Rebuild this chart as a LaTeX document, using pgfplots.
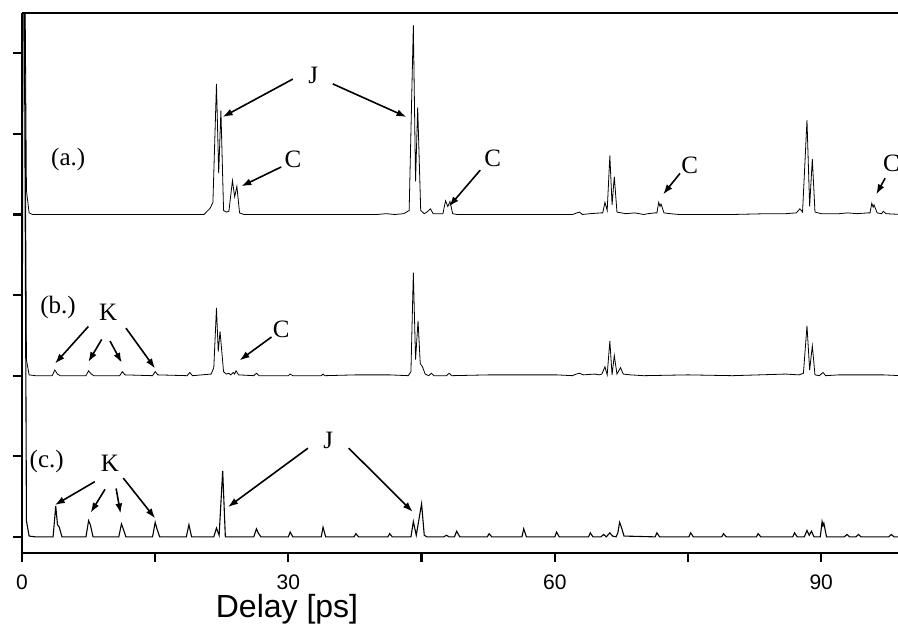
\documentclass[border=0pt]{standalone}
\usepackage{fontspec}
\setmainfont{Liberation Serif}
\setsansfont{Liberation Sans}
\usepackage{pgfplots}
\pgfplotsset{compat=1.18}
\usetikzlibrary{arrows.meta,calc}
\begin{document}
\begin{tikzpicture}
\begin{axis}[
  scale only axis, width=438pt, height=270pt,
  xmin=0, xmax=98.65, ymin=-0.2, ymax=6.5,
  axis x line=box, axis y line*=left,
  axis line style={line width=1.1pt},
  clip mode=individual,
  xtick={0,15,30,45,60,75,90}, xticklabels={0,,30,,60,,90},
  xtick pos=bottom, ytick pos=left,
  ytick={0,1,2,3,4,5,6}, yticklabels={},
  tick align=outside, major tick length=4.5pt,
  tick style={line width=1.1pt, black},
  xticklabel style={font=\sffamily\fontsize{10.5}{12}\selectfont, yshift=-3pt},
  /pgf/number format/assume math mode=true,
  xlabel={Delay [ps]},
  xlabel style={at={(axis description cs:0.3025,0)}, anchor=center, yshift=-28pt, font=\sffamily\fontsize{16}{18}\selectfont},
  cycle list={{black, no markers, line width=0.55pt, line join=round}},
]
% trace (a.)
\addplot coordinates {(0,4)(0.15,10)(0.5,4.3)(0.8,4.02)(1.2,4.0)(10,4.0)(20.5,4.0)(21.2,4.08)(21.5,4.15)(21.9,5.62)(22.15,4.51)(22.4,5.29)(22.7,4.05)(23.0,4.03)(23.3,4.04)(23.7,4.42)(23.95,4.22)(24.2,4.35)(24.5,4.02)(25,4.0)(40,4.0)(41,4.01)(42,4.0)(43,4.01)(43.6,4.05)(44.07,6.35)(44.32,4.41)(44.56,5.33)(44.9,4.05)(45.3,4.01)(45.6,4.03)(46.0,4.07)(46.3,4.01)(47.0,4.01)(47.4,4.01)(47.7,4.17)(47.95,4.1)(48.2,4.16)(48.5,4.01)(49,4.0)(62,4.0)(62.5,4.02)(62.8,4.03)(63.1,4.0)(64,4.01)(65.2,4.02)(65.4,4.02)(65.65,4.15)(65.9,4.05)(66.2,4.73)(66.45,4.12)(66.7,4.47)(67.0,4.03)(67.5,4.02)(68,4.01)(69,4.02)(70,4.0)(70.5,4.01)(71.3,4.02)(71.5,4.02)(71.7,4.15)(71.85,4.1)(71.96,4.13)(72.3,4.02)(73,4.01)(74,4.0)(80,4.0)(84,4.01)(86,4.01)(87.2,4.02)(87.6,4.07)(87.9,4.03)(88.4,5.17)(88.7,4.1)(89.0,4.69)(89.3,4.03)(90,4.01)(92,4.01)(93,4.02)(94,4.01)(95.3,4.02)(95.5,4.02)(95.7,4.14)(95.85,4.09)(95.95,4.12)(96.3,4.02)(96.8,4.01)(97,4.04)(97.3,4.01)(99,4.0)};
% trace (b.)
\addplot coordinates {(0,2)(0.15,10)(0.5,2.2)(0.8,2.01)(1.5,2.0)(3.4,2.0)(3.7,2.07)(4.0,2.02)(4.3,2.0)(7.2,2.0)(7.5,2.06)(7.8,2.02)(8.1,2.0)(11.0,2.0)(11.3,2.05)(11.6,2.01)(14.7,2.0)(15.0,2.05)(15.3,2.01)(18.6,2.0)(18.9,2.04)(19.2,2.0)(21.3,2.02)(21.6,2.1)(21.9,2.84)(22.1,2.3)(22.3,2.55)(22.5,2.3)(22.7,2.05)(23.0,2.02)(23.3,2.03)(23.5,2.01)(23.8,2.04)(23.95,2.02)(24.1,2.06)(24.4,2.01)(26.1,2.0)(26.4,2.03)(26.7,2.0)(30.0,2.0)(30.2,2.02)(30.5,2.0)(33.7,2.0)(33.9,2.02)(34.1,2.0)(37.6,2.01)(41.4,2.01)(43.5,2.0)(43.8,2.05)(44.07,3.28)(44.32,2.2)(44.6,2.68)(44.85,2.15)(45.1,2.11)(45.4,2.02)(45.8,2.0)(46.1,2.03)(46.4,2.0)(47.8,2.0)(48.1,2.03)(48.4,2.0)(52.6,2.01)(56.5,2.01)(60.2,2.01)(62.0,2.0)(62.4,2.02)(62.8,2.03)(63.2,2.01)(64.5,2.02)(65.0,2.01)(65.3,2.02)(65.65,2.11)(65.9,2.01)(66.2,2.43)(66.45,2.01)(66.7,2.25)(67.0,2.02)(67.4,2.1)(67.7,2.02)(68.5,2.01)(70,2.0)(75,2.01)(80,2.0)(83,2.01)(86,2.02)(87.5,2.01)(88.0,2.03)(88.4,2.62)(88.7,2.07)(89.0,2.37)(89.3,2.01)(89.8,2.0)(90.2,2.04)(90.5,2.0)(92,2.01)(93,2.01)(95,2.01)(97,2.01)(99,2.0)};
% trace (c.)
\addplot coordinates {(0,0)(0.15,10)(0.5,0.2)(0.8,0.01)(1.5,0)(3.5,0.0)(3.8,0.38)(4.0,0.15)(4.2,0.12)(4.5,0.0)(7.2,0.0)(7.5,0.2)(7.7,0.15)(8.0,0.0)(10.9,0.0)(11.2,0.16)(11.4,0.1)(11.7,0.0)(14.7,0.0)(15.0,0.18)(15.2,0.1)(15.5,0)(18.5,0)(18.8,0.15)(19.1,0)(21.6,0.0)(21.9,0.11)(22.2,0.02)(22.6,0.82)(22.9,0.0)(26.1,0.0)(26.4,0.1)(26.6,0.05)(26.9,0)(30.0,0)(30.2,0.06)(30.5,0)(33.7,0)(33.9,0.12)(34.2,0)(37.4,0)(37.6,0.04)(37.9,0)(41.2,0)(41.4,0.04)(41.7,0)(43.8,0.0)(44.07,0.19)(44.4,0.02)(45.0,0.41)(45.3,0.02)(45.6,0.0)(47.5,0)(47.8,0.02)(48.1,0)(48.7,0)(48.95,0.07)(49.3,0)(52.4,0)(52.6,0.04)(52.9,0)(56.3,0)(56.5,0.1)(56.8,0)(60,0)(60.2,0.06)(60.5,0)(63.8,0.0)(64.0,0.05)(64.3,0.0)(65.2,0.0)(65.5,0.03)(65.8,0.0)(66.2,0.05)(66.5,0.01)(66.9,0.0)(67.1,0.05)(67.3,0.18)(67.5,0.12)(67.8,0.01)(71.3,0)(71.5,0.05)(71.8,0)(75.1,0)(75.3,0.05)(75.6,0)(78.8,0)(79.0,0.04)(79.3,0)(82.7,0)(82.9,0.04)(83.2,0)(86.8,0)(87.0,0.05)(87.3,0)(88.1,0.0)(88.4,0.08)(88.65,0.02)(88.9,0.07)(89.2,0)(89.9,0)(90.1,0.19)(90.2,0.14)(90.3,0.17)(90.6,0)(92.6,0)(92.9,0.03)(93.2,0)(93.9,0)(94.2,0.03)(94.5,0)(97.6,0)(97.9,0.03)(98.2,0)(99,0)};
% annotations
\tikzset{ann/.style={font=\fontsize{12.5}{14}\selectfont, inner sep=0pt}, arr/.style={-{Latex[length=5pt,width=3.5pt]}, line width=0.8pt}}
\node[ann] at (axis cs:5.2,4.68) {(a.)};
\node[ann] at (axis cs:32.8,5.73) {J};
\draw[arr] (axis cs:30.5,5.68) -- (axis cs:22.6,5.21);
\draw[arr] (axis cs:35.0,5.62) -- (axis cs:43.3,5.21);
\node[ann] at (axis cs:30.5,4.68) {C};
\draw[arr] (axis cs:29.2,4.59) -- (axis cs:24.7,4.35);
\node[ann] at (axis cs:53.0,4.70) {C};
\draw[arr] (axis cs:51.6,4.55) -- (axis cs:48.1,4.1);
\node[ann] at (axis cs:75.2,4.61) {C};
\draw[arr] (axis cs:74.1,4.51) -- (axis cs:72.2,4.25);
\node[ann] at (axis cs:97.9,4.63) {C};
\draw[arr] (axis cs:97.2,4.45) -- (axis cs:96.2,4.25);
\node[ann] at (axis cs:4.05,2.84) {(b.)};
\node[ann] at (axis cs:9.7,2.79) {K};
\draw[arr] (axis cs:7.47,2.61) -- (axis cs:3.72,2.15);
\draw[arr] (axis cs:8.98,2.45) -- (axis cs:7.47,2.17);
\draw[arr] (axis cs:9.91,2.43) -- (axis cs:11.23,2.16);
\draw[arr] (axis cs:11.71,2.59) -- (axis cs:14.98,2.09);
\node[ann] at (axis cs:29.2,2.57) {C};
\draw[arr] (axis cs:28.1,2.48) -- (axis cs:24.5,2.19);
\node[ann] at (axis cs:2.78,0.93) {(c.)};
\node[ann] at (axis cs:9.9,0.91) {K};
\draw[arr] (axis cs:8.2,0.685) -- (axis cs:3.7,0.395);
\draw[arr] (axis cs:9.35,0.59) -- (axis cs:7.73,0.30);
\draw[arr] (axis cs:10.6,0.60) -- (axis cs:11.1,0.29);
\draw[arr] (axis cs:11.4,0.73) -- (axis cs:15.0,0.23);
\node[ann] at (axis cs:34.5,1.2) {J};
\draw[arr] (axis cs:32.2,1.1) -- (axis cs:23.2,0.37);
\draw[arr] (axis cs:36.8,1.1) -- (axis cs:44.0,0.31);
\end{axis}
\pgfresetboundingbox
\useasboundingbox ($(current axis.south west)+(-11pt,-36pt)$) rectangle ($(current axis.north east)+(0pt,6.5pt)$);
\end{tikzpicture}
\end{document}
